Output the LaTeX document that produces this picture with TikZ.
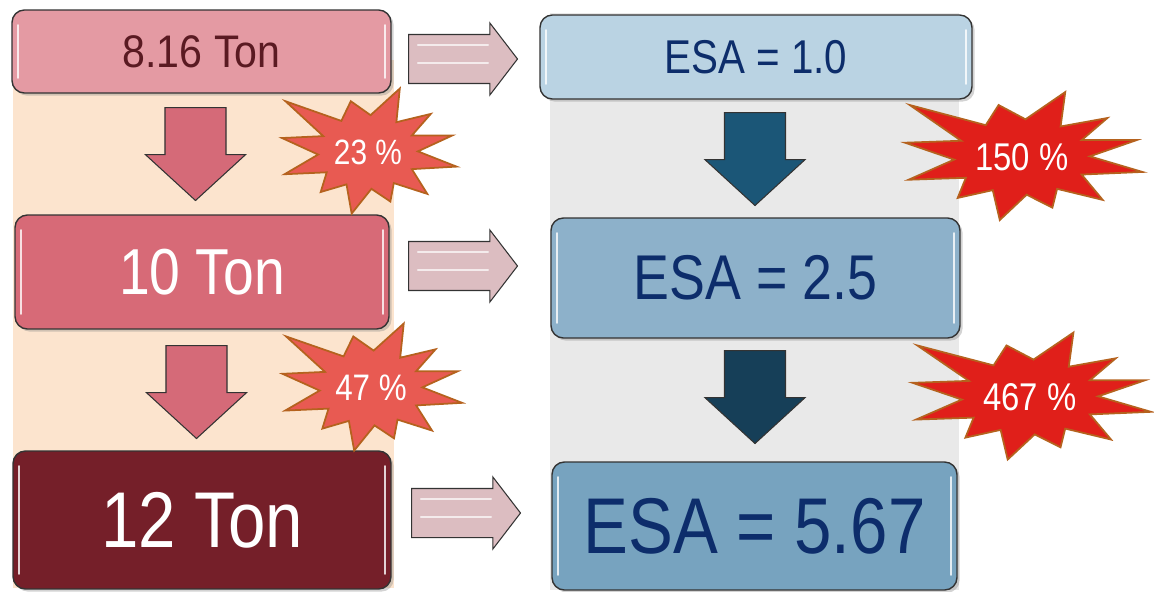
\documentclass[tikz,border=0pt]{standalone}
\usepackage{fontspec}
\setmainfont{Liberation Sans}
\newfontfamily\narrowfont{Liberation Sans}[FakeStretch=0.85]
\newfontfamily\topfont{Liberation Sans}[FakeStretch=0.9]
\usetikzlibrary{positioning,shapes.arrows,shadows}

\definecolor{peach}{HTML}{FCE4CE}
\definecolor{lightgray}{HTML}{E9E9E9}
\definecolor{tonA}{HTML}{E49AA3}
\definecolor{tonB}{HTML}{D76A77}
\definecolor{tonC}{HTML}{751F29}
\definecolor{tontext}{HTML}{5A1A22}
\definecolor{esaA}{HTML}{BAD3E3}
\definecolor{esaB}{HTML}{8DB1CA}
\definecolor{esaC}{HTML}{77A3BF}
\definecolor{esatext}{HTML}{0D2D6B}
\definecolor{arrpink}{HTML}{DCBDC1}
\definecolor{arrrose}{HTML}{D56A78}
\definecolor{arrblue}{HTML}{1B5677}
\definecolor{arrnavy}{HTML}{163F58}
\definecolor{burstA}{HTML}{E85A52}
\definecolor{burstB}{HTML}{E01F1A}
\definecolor{burstline}{HTML}{B5621E}

\tikzset{
  valbox/.style={draw=black!80, line width=0.8pt, rounded corners=7pt,
    drop shadow={opacity=0.35, shadow xshift=1.5pt, shadow yshift=-1.5pt}},
  rightarr/.style={single arrow, draw=black!80, line width=0.6pt, fill=arrpink, anchor=tail,
    inner xsep=0pt, inner ysep=0.48cm, minimum height=2.18cm, minimum width=1.42cm,
    single arrow head extend=0.23cm, single arrow tip angle=105},
  downarr/.style={single arrow, draw=black!80, line width=0.6pt, rotate=-90, anchor=tail,
    inner xsep=0pt, inner ysep=0.6cm, minimum height=1.86cm, minimum width=1.98cm,
    single arrow head extend=0.39cm, single arrow tip angle=95},
  bursttext/.style={text=white, inner sep=0pt}
}
\newcommand{\gloss}[1]{%
  \draw[white, opacity=0.8, line width=1.2pt, line cap=round]
    ([xshift=4pt,yshift=-9pt]#1.north west) -- ([xshift=4pt,yshift=9pt]#1.south west);
  \draw[white, opacity=0.8, line width=1.2pt, line cap=round]
    ([xshift=-4pt,yshift=-9pt]#1.north east) -- ([xshift=-4pt,yshift=9pt]#1.south east);}
\newcommand{\streak}[1]{%
  \draw[white, opacity=0.7, line width=1.2pt, line cap=round]
    ([shift={(0.2cm,0.28cm)}]#1.tail) -- ([shift={(1.6cm,0.28cm)}]#1.tail);
  \draw[white, opacity=0.7, line width=1.2pt, line cap=round]
    ([shift={(0.2cm,-0.08cm)}]#1.tail) -- ([shift={(1.6cm,-0.08cm)}]#1.tail);}
% twelve-point burst round a coordinate: #2, #3 half sizes, #4 fill
\newcommand{\burstat}[4]{%
  \begin{scope}[shift={(#1)}, x=#2, y=#3]
    \draw[burstline, line width=1pt, fill=#4, line join=miter]
      (0.73,0.6) -- (0.33,0.47) -- (0.37,1.0) -- (0.03,0.58) -- (-0.2,0.8)
      -- (-0.31,0.49) -- (-0.96,0.8) -- (-0.52,0.25) -- (-1.0,0.22)
      -- (-0.58,-0.04) -- (-0.97,-0.35) -- (-0.48,-0.32) -- (-0.55,-0.63)
      -- (-0.25,-0.51) -- (-0.19,-0.97) -- (0.04,-0.58) -- (0.26,-0.78)
      -- (0.3,-0.49) -- (0.69,-0.66) -- (0.51,-0.27) -- (1.03,-0.23)
      -- (0.58,0.01) -- (0.98,0.26) -- (0.51,0.26) -- cycle;
  \end{scope}}

\begin{document}
\begin{tikzpicture}[x=0.02cm, y=-0.02cm]
    \useasboundingbox (0,0) rectangle (1154,592);

    % panels behind the two columns
    \fill[peach] (13,60) rectangle (394,588);
    \fill[lightgray] (550,13) rectangle (959,590);

    \node [valbox, fill=tonA, text=tontext, minimum width=7.58cm, minimum height=1.66cm,
      font=\topfont\fontsize{26}{30}\selectfont] (t1) at (201.5,51.5) {8.16 Ton};
    \node [valbox, fill=tonB, text=white, minimum width=7.48cm, minimum height=2.28cm,
      font=\narrowfont\fontsize{37}{42}\selectfont] (t2) at (202,272) {10 Ton};
    \node [valbox, fill=tonC, text=white, minimum width=7.56cm, minimum height=2.76cm,
      font=\narrowfont\fontsize{45}{50}\selectfont] (t3) at (202,520) {12 Ton};

    \node [valbox, fill=esaA, text=esatext, minimum width=8.64cm, minimum height=1.68cm,
      font=\narrowfont\fontsize{27}{31}\selectfont] (e1) at (756,57) {ESA = 1.0};
    \node [valbox, fill=esaB, text=esatext, minimum width=8.18cm, minimum height=2.4cm,
      font=\narrowfont\fontsize{36}{41}\selectfont] (e2) at (755.5,278) {ESA = 2.5};
    \node [valbox, fill=esaC, text=esatext, minimum width=8.1cm, minimum height=2.56cm,
      font=\narrowfont\fontsize{45}{50}\selectfont] (e3) at (754.5,526) {ESA = 5.67};

    \gloss{t1} \gloss{t2} \gloss{t3}
    \gloss{e1} \gloss{e2} \gloss{e3}

    \node [rightarr] (r1) at (408,59) {};
    \node [rightarr] (r2) at (408,266) {};
    \node [rightarr] (r3) at (411,513) {};
    \streak{r1} \streak{r2} \streak{r3}

    \node [downarr, fill=arrrose] (dl1) at (195.5,107) {};
    \node [downarr, fill=arrrose] (dl2) at (196.5,345) {};
    \node [downarr, fill=arrblue] (dr1) at (755,112) {};
    \node [downarr, fill=arrnavy] (dr2) at (755,350) {};

    \coordinate (c1) at (368,152);
    \coordinate (c2) at (371,388);
    \coordinate (c3) at (1022,157);
    \coordinate (c4) at (1030,397);
    \burstat{c1}{1.72cm}{1.27cm}{burstA}
    \burstat{c2}{1.77cm}{1.29cm}{burstA}
    \burstat{c3}{2.34cm}{1.3cm}{burstB}
    \burstat{c4}{2.35cm}{1.29cm}{burstB}
    \node [bursttext, font=\narrowfont\fontsize{20}{24}\selectfont] (s1) at (c1) {23 \%};
    \node [bursttext, font=\narrowfont\fontsize{21}{25}\selectfont] (s2) at (c2) {47 \%};
    \node [bursttext, font=\narrowfont\fontsize{22}{26}\selectfont] (s3) at (c3) {150 \%};
    \node [bursttext, font=\narrowfont\fontsize{22}{26}\selectfont] (s4) at (c4) {467 \%};

\end{tikzpicture}
\end{document}
